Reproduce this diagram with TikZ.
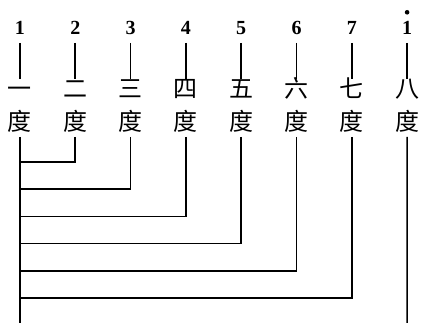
\documentclass[tikz,border=0pt]{standalone}
\usepackage{fontspec}
\setmainfont{Liberation Serif}
\newfontfamily\cjk{Noto Sans CJK SC}
\begin{document}
\begin{tikzpicture}[x=1pt,y=-1pt,line width=1.7pt,
    numlabel/.style={font=\fontsize{20}{20}\selectfont\bfseries, inner sep=0pt,
      text height=13pt, text depth=0pt, anchor=south},
    cnlabel/.style={font=\cjk\fontsize{24}{24}\selectfont, inner sep=0pt,
      text height=0.88em, text depth=0.12em}]
  \useasboundingbox (0,0) rectangle (421,323);

  % Scale degrees and their names
  \foreach \n/\d/\c in {1/1/一,2/2/二,3/3/三,4/4/四,5/5/五,6/6/六,7/7/七,8/1/八} {
    \node[numlabel] (num\n) at ({20+55.3*(\n-1)},35) {\d};
    \node[cnlabel] (ord\n) at ({20+55.3*(\n-1)},94) {\c};
    \node[cnlabel] (du\n) at ({20+55.3*(\n-1)},127) {度};
    \draw[shorten <=8pt, shorten >=9pt] (num\n.south) -- (ord\n.north);
  }
  % High octave dot
  \fill ([yshift=8pt]num8.north) circle (2.3);

  % Intervals counted from the tonic
  \coordinate (foot1) at (20,323);
  \coordinate (foot8) at (407.1,323);
  \draw[shorten <=4pt] (du1.south) -- (foot1);
  \draw[shorten <=4pt] (du8.south) -- (foot8);
  \foreach \n in {2,...,7} {
    \coordinate (bar\n) at (20,{162+27.2*(\n-2)});
    \draw[shorten <=4pt] (du\n.south) |- (bar\n);
  }
\end{tikzpicture}
\end{document}
